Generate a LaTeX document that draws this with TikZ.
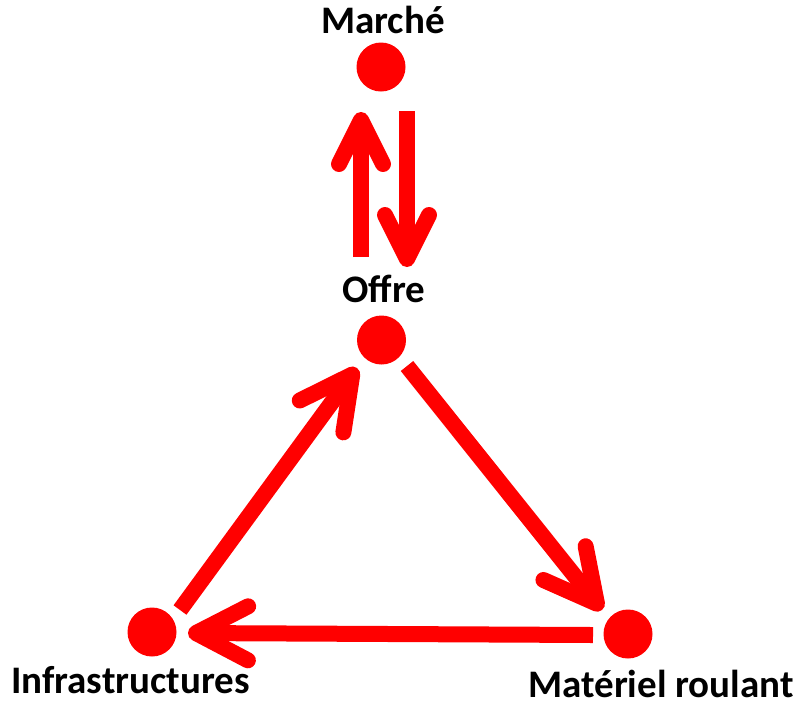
\documentclass[tikz,border=0pt]{standalone}
\usepackage{fontspec}
\setmainfont{Carlito}
\usetikzlibrary{arrows.meta}
\definecolor{myred}{RGB}{255,0,0}
\begin{document}
\begin{tikzpicture}[x=1pt,y=-1pt,
  dot/.style={circle,fill=myred,minimum size=49pt,inner sep=0pt},
  arr/.style={draw=myred,line width=16pt,-{Straight Barb[length=52pt,width=54pt,round]}},
  varr/.style={draw=myred,line width=16pt,-{Straight Barb[length=44pt,width=44pt,round]}},
  lab/.style={font=\bfseries\fontsize{39}{39}\selectfont,inner sep=0pt,anchor=base}]
\useasboundingbox (0,0) rectangle (800,716);
\node[dot] (marche) at (381,67) {};
\node[dot] (offre) at (381.5,340) {};
\node[dot] (infra) at (152,632) {};
\node[dot] (mat) at (628,634) {};
\node[lab] (tmarche) at (383,33) {Marché};
\node[lab] (toffre) at (384,302) {Offre};
\node[lab] (tinfra) at (130.5,693) {Infrastructures};
\node[lab] (tmat) at (661,697) {Matériel roulant};
\coordinate (u1) at (361,257);
\coordinate (u2) at (361,112);
\coordinate (d1) at (407,111);
\coordinate (d2) at (407,267);
\coordinate (om1) at (407,366);
\coordinate (om2) at (602,610);
\coordinate (mi1) at (593,635);
\coordinate (mi2) at (188,633);
\coordinate (io1) at (180,610);
\coordinate (io2) at (357,368);
\draw[varr] (u1) -- (u2);
\draw[varr] (d1) -- (d2);
\draw[arr] (om1) -- (om2);
\draw[arr] (mi1) -- (mi2);
\draw[arr] (io1) -- (io2);
\end{tikzpicture}
\end{document}
